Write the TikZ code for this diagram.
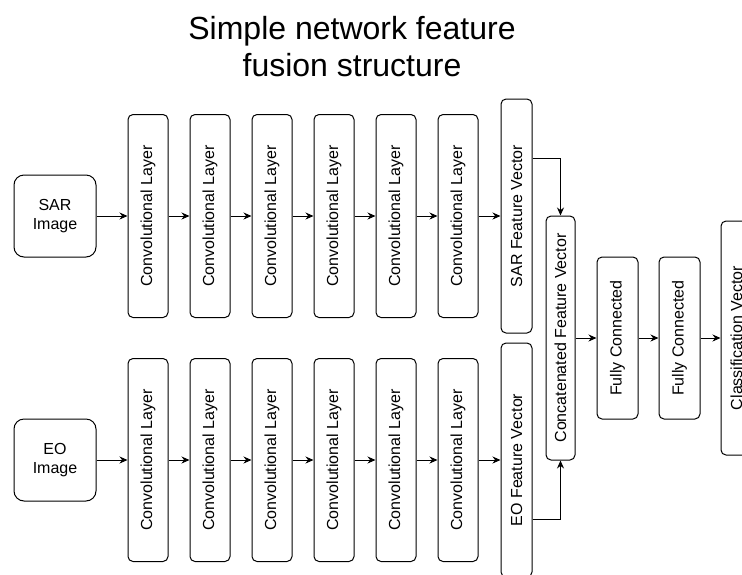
\documentclass[tikz,border=0pt]{standalone}
\usepackage{fontspec}
\setmainfont{Liberation Sans}
\usetikzlibrary{positioning, arrows.meta}
\tikzset{
  % Input image
  imgbox/.style={
    draw, rounded corners=10pt, line width=1pt, align=center,
    font=\fontsize{16}{19}\selectfont,
    minimum width=82pt, minimum height=82pt, inner sep=0pt
  },
  % Upright block, text turned by 90 degrees
  layer/.style={
    draw, rounded corners=5pt, line width=1pt, inner sep=0pt,
    font=\fontsize{16}{19}\selectfont
  },
  conv/.style={layer, minimum width=40pt, minimum height=203pt},
  featvec/.style={layer, minimum width=31pt, minimum height=234pt},
  fc/.style={layer, minimum width=41pt, minimum height=162pt},
  % Title
  heading/.style={align=center, font=\fontsize{32}{37}\selectfont},
  % Connector
  arr/.style={->, line width=1pt, >={Stealth[length=8pt, width=7pt]}}
}
\newcommand{\vtext}[1]{\rotatebox{90}{#1}}

\begin{document}
\begin{tikzpicture}[x=1pt, y=-1pt, node distance=21pt]
  \useasboundingbox (0,0) rectangle (742,574);

  %% ── Title ──
  \node[heading, anchor=base] (title) at (352,76) {Simple network feature\\fusion structure};

  %% ── SAR branch ──
  \node[imgbox] (sarImg) at (55,216) {SAR\\Image};
  \node[conv, right=31pt of sarImg] (sarConv1) {\vtext{Convolutional Layer}};
  \node[conv, right=of sarConv1] (sarConv2) {\vtext{Convolutional Layer}};
  \node[conv, right=of sarConv2] (sarConv3) {\vtext{Convolutional Layer}};
  \node[conv, right=of sarConv3] (sarConv4) {\vtext{Convolutional Layer}};
  \node[conv, right=of sarConv4] (sarConv5) {\vtext{Convolutional Layer}};
  \node[conv, right=of sarConv5] (sarConv6) {\vtext{Convolutional Layer}};
  \node[featvec, right=22pt of sarConv6] (sarVec) {\vtext{SAR Feature Vector}};

  %% ── EO branch ──
  \node[imgbox] (eoImg) at (55,460) {EO\\Image};
  \node[conv, right=31pt of eoImg] (eoConv1) {\vtext{Convolutional Layer}};
  \node[conv, right=of eoConv1] (eoConv2) {\vtext{Convolutional Layer}};
  \node[conv, right=of eoConv2] (eoConv3) {\vtext{Convolutional Layer}};
  \node[conv, right=of eoConv3] (eoConv4) {\vtext{Convolutional Layer}};
  \node[conv, right=of eoConv4] (eoConv5) {\vtext{Convolutional Layer}};
  \node[conv, right=of eoConv5] (eoConv6) {\vtext{Convolutional Layer}};
  \node[featvec, right=22pt of eoConv6] (eoVec) {\vtext{EO Feature Vector}};

  %% ── Fusion and classifier ──
  \node[layer, minimum width=29pt, minimum height=244pt] (concat) at (560.5,338) {\vtext{Concatenated Feature Vector}};
  \node[fc, right=of concat] (fc1) {\vtext{Fully Connected}};
  \node[fc, right=20pt of fc1] (fc2) {\vtext{Fully Connected}};
  \node[featvec, right=20pt of fc2] (cls) {\vtext{Classification Vector}};

  %% ── Arrows — SAR ──
  \draw[arr] (sarImg) -- (sarConv1);
  \draw[arr] (sarConv1) -- (sarConv2);
  \draw[arr] (sarConv2) -- (sarConv3);
  \draw[arr] (sarConv3) -- (sarConv4);
  \draw[arr] (sarConv4) -- (sarConv5);
  \draw[arr] (sarConv5) -- (sarConv6);
  \draw[arr] (sarConv6) -- (sarVec);

  %% ── Arrows — EO ──
  \draw[arr] (eoImg) -- (eoConv1);
  \draw[arr] (eoConv1) -- (eoConv2);
  \draw[arr] (eoConv2) -- (eoConv3);
  \draw[arr] (eoConv3) -- (eoConv4);
  \draw[arr] (eoConv4) -- (eoConv5);
  \draw[arr] (eoConv5) -- (eoConv6);
  \draw[arr] (eoConv6) -- (eoVec);

  %% ── Arrows — fusion ──
  \draw[arr] ([yshift=58pt]sarVec.east) -| (concat.north);
  \draw[arr] ([yshift=-59pt]eoVec.east) -| (concat.south);
  \draw[arr] (concat) -- (fc1);
  \draw[arr] (fc1) -- (fc2);
  \draw[arr] (fc2) -- (cls);

\end{tikzpicture}
\end{document}
